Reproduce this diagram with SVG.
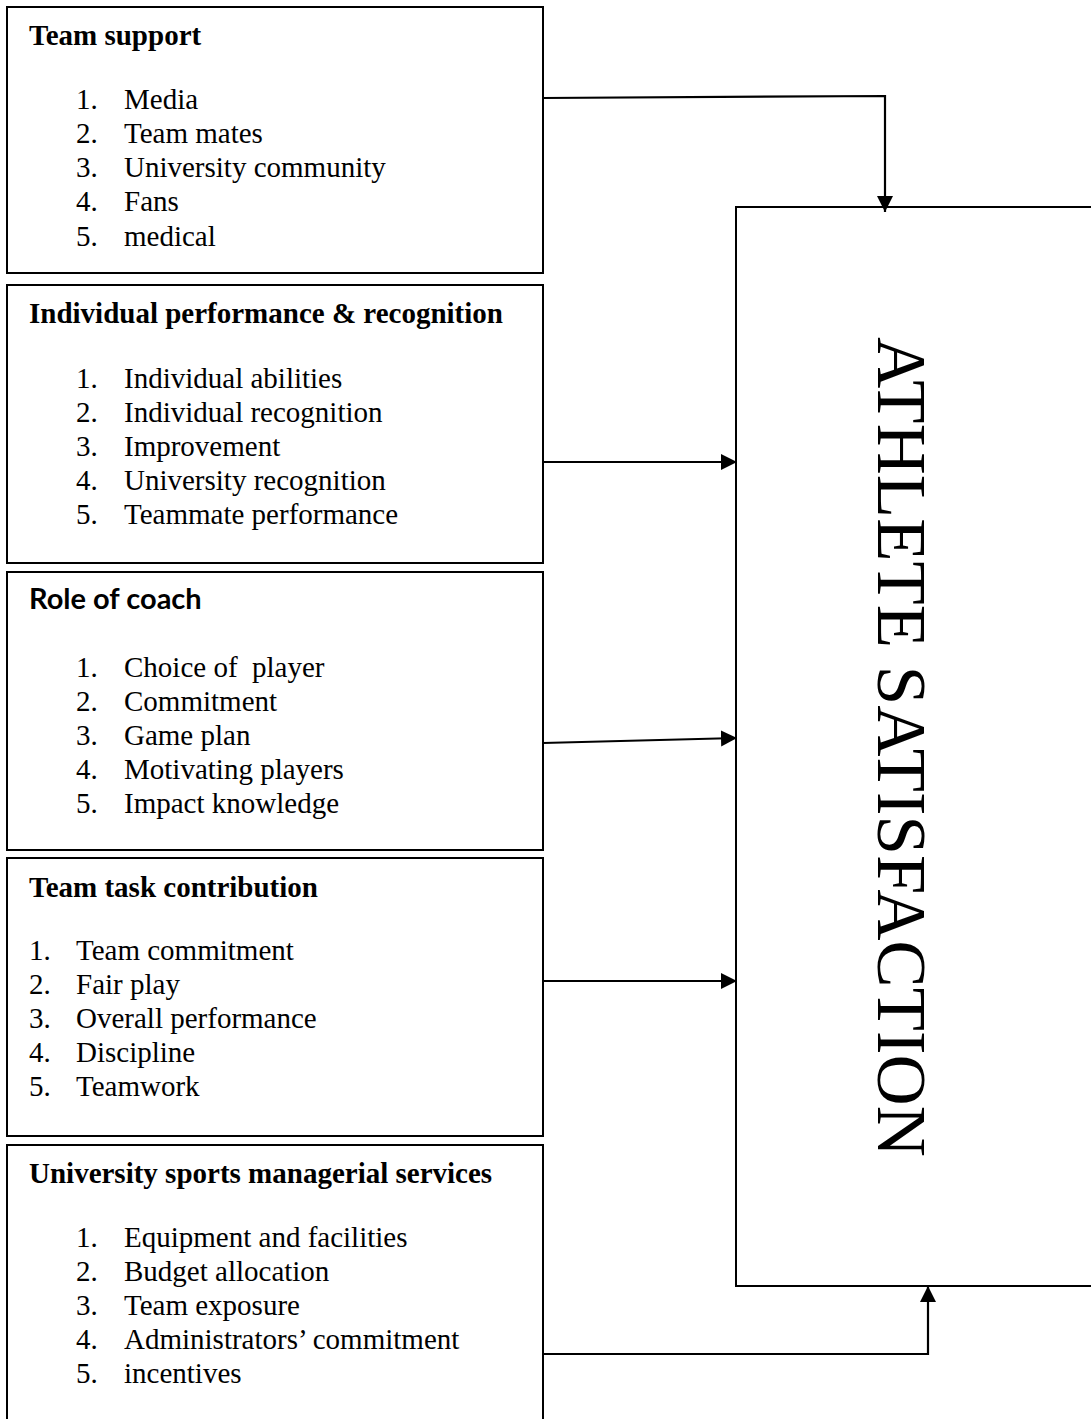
<svg xmlns="http://www.w3.org/2000/svg" width="1091" height="1419" viewBox="0 0 1091 1419">
<style>
.box{fill:#fff;stroke:#000;stroke-width:2}
.t{font-family:"Liberation Serif","Times New Roman",serif;font-size:29px;fill:#000}
.h{font-family:"Liberation Serif","Times New Roman",serif;font-size:29px;font-weight:bold;fill:#000}
.hs{font-family:Lato,"Liberation Sans",sans-serif;font-size:29px;font-weight:bold;fill:#000}
.big{font-family:"Liberation Serif","Times New Roman",serif;font-size:70px;fill:#000}
.c{fill:none;stroke:#000;stroke-width:2.2}
</style>
<defs>
<marker id="ah" markerUnits="userSpaceOnUse" markerWidth="18" markerHeight="18" refX="16" refY="8" orient="auto">
<path d="M0,0 L16,8 L0,16 z" fill="#000"/>
</marker>
</defs>
<rect width="1091" height="1419" fill="#fff"/>
<g id="athlete-satisfaction">
<rect class="box" x="736" y="207" width="370" height="1079"/>
<text class="big" transform="translate(878,337) rotate(90)" textLength="820" lengthAdjust="spacingAndGlyphs">ATHLETE SATISFACTION</text>
</g>
<g id="team-support">
<rect class="box" x="7" y="7" width="536" height="266"/>
<text class="h" x="29" y="45">Team support</text>
<text class="t"><tspan x="76" y="109">1.</tspan><tspan x="124" y="109">Media</tspan></text>
<text class="t"><tspan x="76" y="143">2.</tspan><tspan x="124" y="143">Team mates</tspan></text>
<text class="t"><tspan x="76" y="177">3.</tspan><tspan x="124" y="177">University community</tspan></text>
<text class="t"><tspan x="76" y="211">4.</tspan><tspan x="124" y="211">Fans</tspan></text>
<text class="t"><tspan x="76" y="246">5.</tspan><tspan x="124" y="246">medical</tspan></text>
</g>
<g id="individual-performance">
<rect class="box" x="7" y="285" width="536" height="278"/>
<text class="h" x="29" y="323">Individual performance &amp; recognition</text>
<text class="t"><tspan x="76" y="388">1.</tspan><tspan x="124" y="388">Individual abilities</tspan></text>
<text class="t"><tspan x="76" y="422">2.</tspan><tspan x="124" y="422">Individual recognition</tspan></text>
<text class="t"><tspan x="76" y="456">3.</tspan><tspan x="124" y="456">Improvement</tspan></text>
<text class="t"><tspan x="76" y="490">4.</tspan><tspan x="124" y="490">University recognition</tspan></text>
<text class="t"><tspan x="76" y="524">5.</tspan><tspan x="124" y="524">Teammate performance</tspan></text>
</g>
<g id="role-of-coach">
<rect class="box" x="7" y="572" width="536" height="278"/>
<text class="hs" x="29" y="609">Role of coach</text>
<text class="t"><tspan x="76" y="677">1.</tspan><tspan x="124" y="677" xml:space="preserve">Choice of  player</tspan></text>
<text class="t"><tspan x="76" y="711">2.</tspan><tspan x="124" y="711">Commitment</tspan></text>
<text class="t"><tspan x="76" y="745">3.</tspan><tspan x="124" y="745">Game plan</tspan></text>
<text class="t"><tspan x="76" y="779">4.</tspan><tspan x="124" y="779">Motivating players</tspan></text>
<text class="t"><tspan x="76" y="813">5.</tspan><tspan x="124" y="813">Impact knowledge</tspan></text>
</g>
<g id="team-task-contribution">
<rect class="box" x="7" y="858" width="536" height="278"/>
<text class="h" x="29" y="897">Team task contribution</text>
<text class="t"><tspan x="29" y="960">1.</tspan><tspan x="76" y="960">Team commitment</tspan></text>
<text class="t"><tspan x="29" y="994">2.</tspan><tspan x="76" y="994">Fair play</tspan></text>
<text class="t"><tspan x="29" y="1028">3.</tspan><tspan x="76" y="1028">Overall performance</tspan></text>
<text class="t"><tspan x="29" y="1062">4.</tspan><tspan x="76" y="1062">Discipline</tspan></text>
<text class="t"><tspan x="29" y="1096">5.</tspan><tspan x="76" y="1096">Teamwork</tspan></text>
</g>
<g id="university-services">
<rect class="box" x="7" y="1145" width="536" height="290"/>
<text class="h" x="29" y="1183">University sports managerial services</text>
<text class="t"><tspan x="76" y="1247">1.</tspan><tspan x="124" y="1247">Equipment and facilities</tspan></text>
<text class="t"><tspan x="76" y="1281">2.</tspan><tspan x="124" y="1281">Budget allocation</tspan></text>
<text class="t"><tspan x="76" y="1315">3.</tspan><tspan x="124" y="1315">Team exposure</tspan></text>
<text class="t"><tspan x="76" y="1349">4.</tspan><tspan x="124" y="1349">Administrators’ commitment</tspan></text>
<text class="t"><tspan x="76" y="1383">5.</tspan><tspan x="124" y="1383">incentives</tspan></text>
</g>
<g id="connectors">
<path class="c" d="M543,98 L885,96 L885,212" marker-end="url(#ah)"/>
<path class="c" d="M543,462 L737,462" marker-end="url(#ah)"/>
<path class="c" d="M543,743 L737,738" marker-end="url(#ah)"/>
<path class="c" d="M543,981 L737,981" marker-end="url(#ah)"/>
<path class="c" d="M543,1354 L928,1354 L928,1286" marker-end="url(#ah)"/>
</g>
</svg>
